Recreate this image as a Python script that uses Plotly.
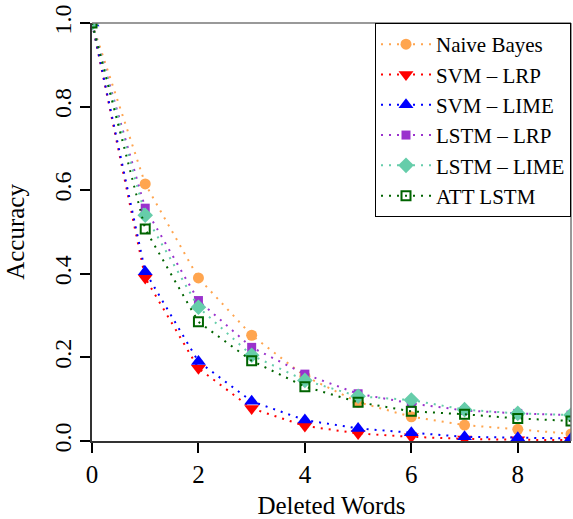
import plotly.graph_objects as go

deleted_words = [0, 1, 2, 3, 4, 5, 6, 7, 8, 9]
naive_bayes = [1.0, 0.615, 0.39, 0.253, 0.155, 0.093, 0.058, 0.038, 0.028, 0.017]
svm_lrp = [1.0, 0.39, 0.174, 0.078, 0.036, 0.018, 0.01, 0.005, 0.003, 0.002]
svm_lime = [1.0, 0.405, 0.19, 0.095, 0.05, 0.03, 0.02, 0.01, 0.008, 0.006]
lstm_lrp = [1.0, 0.557, 0.336, 0.224, 0.16, 0.113, 0.09, 0.073, 0.066, 0.062]
lstm_lime = [1.0, 0.54, 0.32, 0.205, 0.145, 0.107, 0.098, 0.075, 0.066, 0.062]
att_lstm = [1.0, 0.507, 0.285, 0.192, 0.13, 0.093, 0.071, 0.064, 0.054, 0.048]

series = [
    ("Naive Bayes", naive_bayes, "#FFA54F", "circle", 11),
    ("SVM – LRP", svm_lrp, "#FF0000", "triangle-down", 13),
    ("SVM – LIME", svm_lime, "#0000FF", "triangle-up", 13),
    ("LSTM – LRP", lstm_lrp, "#9A32CD", "square", 9),
    ("LSTM – LIME", lstm_lime, "#66CDAA", "diamond", 12),
    ("ATT LSTM", att_lstm, "#006400", "square-open", 9),
]

fig = go.Figure()
for name, vals, color, sym, size in series:
    marker = dict(color=color, symbol=sym, size=size)
    if sym == "square-open":
        marker["line"] = dict(color=color, width=2)
    fig.add_trace(go.Scatter(
        x=deleted_words, y=vals, name=name, mode="lines+markers",
        line=dict(color=color, dash="2px,6px", width=2),
        marker=marker,
    ))

font_family = "Liberation Serif, Times New Roman, Times, serif"
fig.update_layout(
    width=573, height=519,
    margin=dict(l=92, r=2, t=23, b=78),
    plot_bgcolor="white", paper_bgcolor="white",
    font=dict(family=font_family, color="black", size=25),
    legend=dict(
        x=1, y=1, xanchor="right", yanchor="top",
        bgcolor="white", bordercolor="black", borderwidth=1,
        font=dict(family=font_family, size=21, color="black"),
        tracegroupgap=0, itemwidth=50,
    ),
    xaxis=dict(
        range=[0, 9], tickvals=[0, 2, 4, 6, 8],
        showgrid=False, zeroline=False, automargin=False,
        showline=True, linecolor="#333333", linewidth=1.5,
        ticks="outside", ticklen=10, tickcolor="black", tickwidth=1.5,
        tickfont=dict(size=25),
        title=dict(text="Deleted Words", font=dict(size=25), standoff=20),
    ),
    yaxis=dict(
        range=[0, 1], tickvals=[0, 0.2, 0.4, 0.6, 0.8, 1.0], tickformat=".1f",
        tickangle=-90,
        showgrid=False, zeroline=False, automargin=False,
        showline=True, linecolor="#333333", linewidth=1.5,
        ticks="outside", ticklen=10, tickcolor="black", tickwidth=1.5,
        tickfont=dict(size=24),
        title=dict(text="Accuracy", font=dict(size=25), standoff=18),
    ),
    shapes=[
        dict(type="line", xref="paper", yref="paper", x0=0, x1=1, y0=1, y1=1,
             line=dict(color="#777777", width=1.5)),
        dict(type="line", xref="paper", yref="paper", x0=1, x1=1, y0=0, y1=1,
             line=dict(color="#777777", width=1.5)),
    ],
)

fig.write_html(
    "out.html",
    config={"displayModeBar": False},
    post_script="document.body.style.margin='0';document.body.style.overflow='hidden';",
)
